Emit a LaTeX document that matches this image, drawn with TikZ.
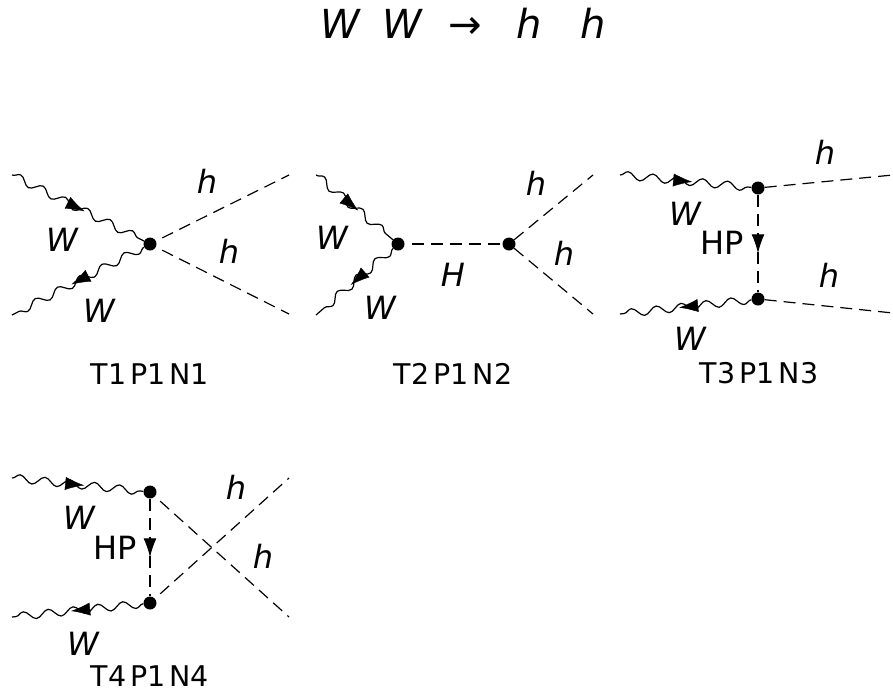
\documentclass[tikz,border=0pt]{standalone}
\usepackage{fontspec}
\setmainfont{DejaVu Sans}
\usetikzlibrary{arrows.meta, decorations.pathmorphing, decorations.markings}
\tikzset{vtx/.style={circle, fill=black, inner sep=0pt, minimum size=13pt}}
\tikzset{wavy/.style={line width=1.2pt, decorate, decoration={snake, segment length=25pt, amplitude=4pt}}}
\tikzset{scalar/.style={line width=1.2pt, dash pattern=on 12pt off 7pt}}
\tikzset{gapstart/.style={dash phase=12pt}}
\tikzset{midtip/.style={postaction={decorate, decoration={markings, mark=at position #1 with {\arrow{Latex[length=19pt, width=13pt]}}}}}}
\tikzset{lbl/.style={font=\fontsize{32}{32}\selectfont\itshape, inner sep=0pt}}
\tikzset{upr/.style={font=\fontsize{32}{32}\selectfont, inner sep=0pt}}
\tikzset{captxt/.style={font=\fontsize{28.5}{28.5}\selectfont, inner sep=0pt}}
\newcommand{\wline}[2]{%
	\draw[wavy] (#1) -- (#2);
	\path[midtip=0.55] (#1) -- (#2);
}
\newcommand{\captext}[3]{T#1\hspace{4pt}P#2\hspace{4pt}N#3}
\begin{document}
\begin{tikzpicture}[x=1pt, y=-1pt]
	\useasboundingbox (0,0) rectangle (893,694);
	
	% Title
	\node[font=\fontsize{40}{40}\selectfont, inner sep=0pt] (title) at (463,23) {\textit{W}\hspace{21pt}\textit{W}\hspace{25pt}→\hspace{35pt}\textit{h}\hspace{38pt}\textit{h}};
	
	% T1
	\coordinate (a1) at (12,175);
	\coordinate (a2) at (12,315);
	\coordinate (a3) at (289,175);
	\coordinate (a4) at (289,314);
	\node[vtx] (av) at (150,244) {};
	\wline{a1}{av}
	\wline{av}{a2}
	\draw[scalar, gapstart] (av) -- (a3);
	\draw[scalar, gapstart] (av) -- (a4);
	\node[lbl] (aw1) at (62,240) {W};
	\node[lbl] (aw2) at (99,311) {W};
	\node[lbl] (ah1) at (207,181) {h};
	\node[lbl] (ah2) at (229,251) {h};
	\node[captxt] (acap) at (150,374) {\captext{1}{1}{1}};
	
	% T2
	\coordinate (b1) at (316,175);
	\coordinate (b2) at (316,315);
	\coordinate (b3) at (593,175);
	\coordinate (b4) at (593,314);
	\node[vtx] (bv1) at (398,244) {};
	\node[vtx] (bv2) at (509,244) {};
	\wline{b1}{bv1}
	\wline{bv1}{b2}
	\draw[scalar, gapstart] (bv1) -- (bv2);
	\draw[scalar] (bv2) -- (b3);
	\draw[scalar] (bv2) -- (b4);
	\node[lbl] (bw1) at (332,238) {W};
	\node[lbl] (bw2) at (380,308) {W};
	\node[lbl] (bH) at (453,275) {H};
	\node[lbl] (bh1) at (536,183) {h};
	\node[lbl] (bh2) at (564,253) {h};
	\node[captxt] (bcap) at (453,374) {\captext{2}{1}{2}};
	
	% T3
	\coordinate (c1) at (620,175);
	\coordinate (c2) at (620,314);
	\coordinate (c3) at (893,175);
	\coordinate (c4) at (893,313);
	\node[vtx] (cv1) at (758,188) {};
	\node[vtx] (cv2) at (758,299) {};
	\wline{c1}{cv1}
	\wline{cv2}{c2}
	\draw[scalar] (cv1) -- (c3);
	\draw[scalar] (cv2) -- (c4);
	\draw[scalar, midtip=0.6] (cv1) -- (cv2);
	\node[lbl] (cw1) at (685,214) {W};
	\node[lbl] (cw2) at (690,339) {W};
	\node[upr] (chp) at (722,243) {HP};
	\node[lbl] (ch1) at (825,152) {h};
	\node[lbl] (ch2) at (829,275) {h};
	\node[captxt] (ccap) at (759,373) {\captext{3}{1}{3}};
	
	% T4
	\coordinate (d1) at (12,478);
	\coordinate (d2) at (12,617);
	\coordinate (d3) at (289,478);
	\coordinate (d4) at (289,617);
	\node[vtx] (dv1) at (150,492) {};
	\node[vtx] (dv2) at (150,603) {};
	\wline{d1}{dv1}
	\wline{dv2}{d2}
	\draw[scalar, gapstart] (dv1) -- (d4);
	\draw[scalar, gapstart] (dv2) -- (d3);
	\draw[scalar, midtip=0.6] (dv1) -- (dv2);
	\node[lbl] (dw1) at (79,518) {W};
	\node[lbl] (dw2) at (83,644) {W};
	\node[upr] (dhp) at (115,548) {HP};
	\node[lbl] (dh1) at (236,487) {h};
	\node[lbl] (dh2) at (263,556) {h};
	\node[captxt] (dcap) at (150,676) {\captext{4}{1}{4}};
\end{tikzpicture}
\end{document}
